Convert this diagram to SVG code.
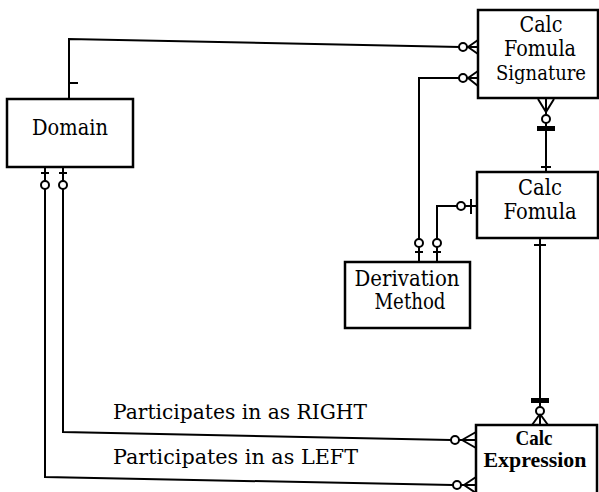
<svg xmlns="http://www.w3.org/2000/svg" width="599" height="492" viewBox="0 0 599 492">
<style>
.box{fill:#fff;stroke:#000;stroke-width:2.5}
.ln{fill:none;stroke:#000;stroke-width:2}
.c{fill:#fff;stroke:#000;stroke-width:2}
.blob{fill:#000}
.t{font-family:"DejaVu Serif","Liberation Serif",serif;font-size:21.5px;fill:#000;text-anchor:middle}
.lbl{font-family:"DejaVu Serif","Liberation Serif",serif;font-size:21px;fill:#000}
.tb{font-family:"Liberation Serif","Times New Roman",serif;font-size:21px;font-weight:bold;fill:#000;text-anchor:middle}
</style>
<rect width="599" height="492" fill="#fff"/>
<g id="connectors">
  <!-- Domain - Calc Fomula Signature -->
  <path class="ln" d="M69,99 L69,39 L460,47"/>
  <path class="ln" d="M69,83 L78,83"/>
  <circle class="c" cx="463" cy="47" r="4"/>
  <path class="ln" d="M467,47 L478,47 M468,47 L478,40 M468,47 L478,54"/>
  <!-- Derivation Method - Signature -->
  <path class="ln" d="M419,262 L419,78 L460,78"/>
  <path class="ln" d="M415,252 L423,252"/>
  <circle class="c" cx="419" cy="243" r="4"/>
  <circle class="c" cx="463" cy="78" r="4"/>
  <path class="ln" d="M467,78 L478,78 M468,78 L478,71 M468,78 L478,86"/>
  <!-- Derivation Method - Calc Fomula -->
  <path class="ln" d="M437,262 L437,206 L477,206"/>
  <path class="ln" d="M433,252 L441,252"/>
  <circle class="c" cx="437" cy="243" r="4"/>
  <circle class="c" cx="461" cy="206" r="4"/>
  <path class="ln" d="M471,199 L471,214"/>
  <!-- Signature - Calc Fomula -->
  <path class="ln" d="M546,98 L546,172"/>
  <path class="ln" d="M546,112 L538,99 M546,112 L554,99"/>
  <circle class="c" cx="546" cy="119" r="4"/>
  <rect class="blob" x="537" y="126" width="18" height="5"/>
  <path class="ln" d="M541,167 L551,167"/>
  <!-- Calc Fomula - Calc Expression -->
  <path class="ln" d="M540,238 L540,425"/>
  <path class="ln" d="M534,245 L546,245"/>
  <rect class="blob" x="531" y="398" width="18" height="5"/>
  <circle class="c" cx="540" cy="411" r="4"/>
  <path class="ln" d="M540,414 L532,425 M540,414 L548,425"/>
  <!-- Domain - Calc Expression (RIGHT) -->
  <path class="ln" d="M63,167 L63,432 L451,440"/>
  <path class="ln" d="M59,173 L67,173"/>
  <circle class="c" cx="63" cy="185" r="4"/>
  <circle class="c" cx="455" cy="440" r="4"/>
  <path class="ln" d="M459,440 L476,440 M462,440 L476,432 M462,440 L476,448"/>
  <!-- Domain - Calc Expression (LEFT) -->
  <path class="ln" d="M45,167 L45,477 L453,485"/>
  <path class="ln" d="M41,173 L49,173"/>
  <circle class="c" cx="45" cy="185" r="4"/>
  <circle class="c" cx="457" cy="485" r="4"/>
  <path class="ln" d="M461,485 L476,485 M464,485 L476,477 M464,485 L476,493"/>
  <text class="lbl" x="113" y="419" textLength="254" lengthAdjust="spacingAndGlyphs">Participates in as RIGHT</text>
  <text class="lbl" x="113" y="464" textLength="245" lengthAdjust="spacingAndGlyphs">Participates in as LEFT</text>
</g>
<g id="domain">
  <rect class="box" x="7" y="99" width="126" height="68"/>
  <text class="t" x="70" y="135" textLength="76" lengthAdjust="spacingAndGlyphs">Domain</text>
</g>
<g id="calc-fomula-signature">
  <rect class="box" x="478" y="10" width="120" height="88"/>
  <text class="t" x="541" y="32" textLength="43" lengthAdjust="spacingAndGlyphs">Calc</text>
  <text class="t" x="540" y="56" textLength="72" lengthAdjust="spacingAndGlyphs">Fomula</text>
  <text class="t" x="541" y="80" style="font-size:20px" textLength="90" lengthAdjust="spacingAndGlyphs">Signature</text>
</g>
<g id="calc-fomula">
  <rect class="box" x="477" y="172" width="121" height="66"/>
  <text class="t" x="540" y="195" textLength="44" lengthAdjust="spacingAndGlyphs">Calc</text>
  <text class="t" x="540" y="219" textLength="73" lengthAdjust="spacingAndGlyphs">Fomula</text>
</g>
<g id="derivation-method">
  <rect class="box" x="345" y="262" width="125" height="66"/>
  <text class="t" x="407" y="286" textLength="105" lengthAdjust="spacingAndGlyphs">Derivation</text>
  <text class="t" x="410" y="309" textLength="71" lengthAdjust="spacingAndGlyphs">Method</text>
</g>
<g id="calc-expression">
  <rect class="box" x="476" y="425" width="121" height="80"/>
  <text class="tb" x="534" y="445" textLength="37" lengthAdjust="spacingAndGlyphs">Calc</text>
  <text class="tb" x="535" y="467" textLength="103" lengthAdjust="spacingAndGlyphs">Expression</text>
</g>
</svg>
